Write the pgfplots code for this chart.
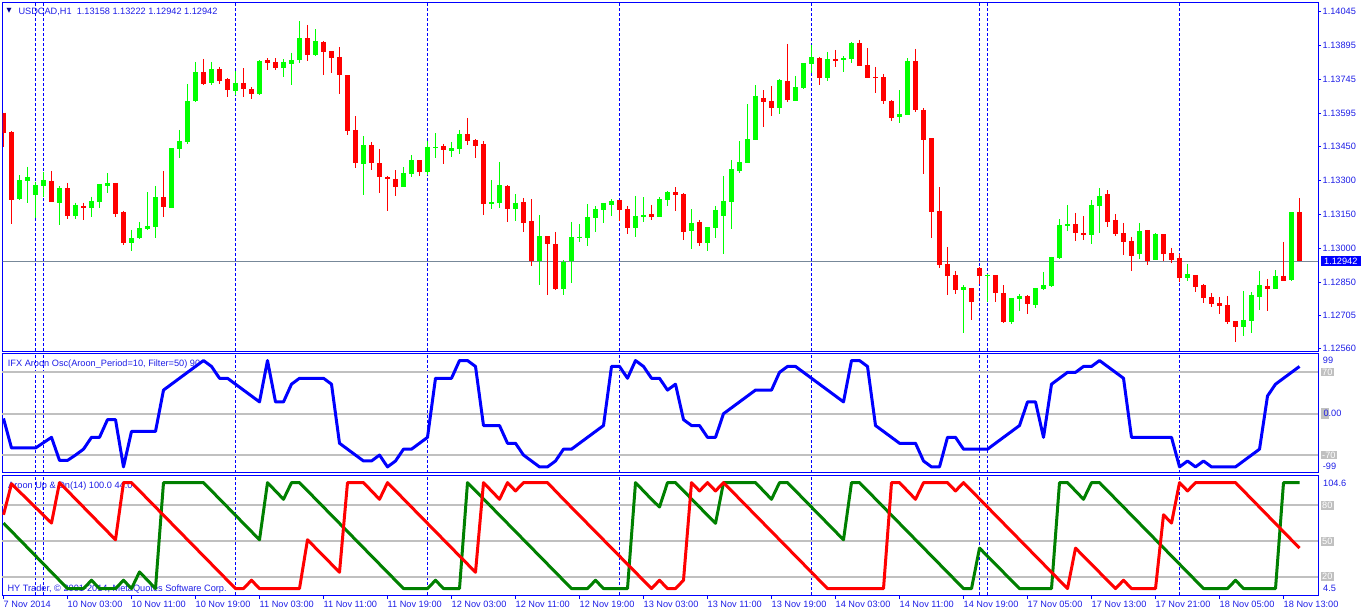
\documentclass[border=0pt]{standalone}
\usepackage{fontspec}
\setmainfont{Liberation Sans}
\newfontfamily\symfont{DejaVu Sans}
\usepackage{pgfplots}
\usepackage{pgfplotstable}
\pgfplotsset{compat=1.18}
\definecolor{mtblue}{RGB}{0,0,255}
\definecolor{mttext}{RGB}{30,30,230}
\definecolor{bullc}{RGB}{0,255,0}
\definecolor{bearc}{RGB}{255,0,0}
\definecolor{lvl}{RGB}{192,192,192}
\definecolor{pline}{RGB}{119,136,153}
\definecolor{upc}{RGB}{0,128,0}
\definecolor{tri}{RGB}{0,0,139}
\newcommand{\lf}{\fontsize{9.2}{10}\selectfont}

\pgfplotstableread{
i o h l c
2 1.13216 1.13323 1.13213 1.13301
3 1.13297 1.13360 1.13201 1.13314
4 1.13235 1.13294 1.13135 1.13279
5 1.13276 1.13336 1.13228 1.13301
7 1.13201 1.13275 1.13103 1.13267
9 1.13144 1.13201 1.13129 1.13191
11 1.13179 1.13228 1.13138 1.13209
12 1.13206 1.13284 1.13179 1.13284
13 1.13276 1.13332 1.13245 1.13288
16 1.13025 1.13081 1.12990 1.13045
17 1.13047 1.13116 1.13042 1.13090
18 1.13085 1.13248 1.13081 1.13098
19 1.13094 1.13275 1.13047 1.13226
21 1.13179 1.13442 1.13179 1.13442
22 1.13438 1.13522 1.13400 1.13473
23 1.13469 1.13725 1.13460 1.13650
24 1.13650 1.13822 1.13645 1.13777
26 1.13729 1.13822 1.13720 1.13791
29 1.13694 1.13782 1.13676 1.13729
32 1.13680 1.13830 1.13676 1.13826
35 1.13797 1.13835 1.13755 1.13822
36 1.13814 1.13863 1.13720 1.13830
37 1.13830 1.14002 1.13817 1.13927
39 1.13852 1.13967 1.13848 1.13914
45 1.13373 1.13495 1.13235 1.13456
50 1.13270 1.13359 1.13270 1.13332
51 1.13328 1.13411 1.13314 1.13389
53 1.13336 1.13473 1.13323 1.13447
54 1.13442 1.13508 1.13398 1.13447
56 1.13429 1.13469 1.13403 1.13442
57 1.13438 1.13522 1.13416 1.13504
61 1.13195 1.13301 1.13173 1.13204
62 1.13200 1.13381 1.13178 1.13279
64 1.13173 1.13239 1.13120 1.13200
67 1.12944 1.13147 1.12838 1.13054
70 1.12821 1.12948 1.12794 1.12940
71 1.12944 1.13116 1.12847 1.13050
72 1.13045 1.13107 1.13028 1.13051
73 1.13045 1.13195 1.13010 1.13138
74 1.13134 1.13187 1.13072 1.13173
75 1.13169 1.13200 1.13112 1.13200
76 1.13191 1.13217 1.13142 1.13209
79 1.13090 1.13231 1.13050 1.13142
80 1.13138 1.13226 1.13116 1.13147
82 1.13138 1.13226 1.13138 1.13217
83 1.13213 1.13253 1.13187 1.13248
86 1.13076 1.13173 1.12997 1.13112
88 1.13023 1.13094 1.12988 1.13094
89 1.13090 1.13187 1.13045 1.13169
90 1.13142 1.13319 1.12975 1.13209
91 1.13204 1.13389 1.13085 1.13350
92 1.13341 1.13473 1.13332 1.13381
93 1.13376 1.13636 1.13376 1.13482
94 1.13478 1.13720 1.13478 1.13672
97 1.13619 1.13747 1.13592 1.13742
99 1.13650 1.13760 1.13650 1.13711
100 1.13707 1.13817 1.13703 1.13817
101 1.13813 1.13897 1.13773 1.13844
103 1.13751 1.13866 1.13738 1.13835
105 1.13830 1.13848 1.13777 1.13839
106 1.13835 1.13910 1.13817 1.13905
112 1.13579 1.13698 1.13553 1.13592
113 1.13588 1.13839 1.13588 1.13826
120 1.12816 1.12838 1.12627 1.12829
123 1.12878 1.12887 1.12763 1.12882
126 1.12675 1.12781 1.12666 1.12781
127 1.12776 1.12799 1.12724 1.12790
129 1.12750 1.12825 1.12737 1.12825
130 1.12821 1.12896 1.12816 1.12838
131 1.12834 1.12962 1.12829 1.12962
132 1.12957 1.13129 1.12953 1.13103
133 1.13098 1.13191 1.13076 1.13107
136 1.13059 1.13213 1.13019 1.13191
137 1.13187 1.13266 1.13067 1.13231
142 1.12975 1.13112 1.12953 1.13076
144 1.12948 1.13067 1.12948 1.13063
148 1.12869 1.12931 1.12856 1.12887
155 1.12653 1.12812 1.12613 1.12684
156 1.12679 1.12807 1.12627 1.12794
157 1.12785 1.12900 1.12728 1.12838
159 1.12821 1.12904 1.12821 1.12878
161 1.12860 1.13160 1.12856 1.13160
}\bull

\pgfplotstableread{
i o h l c
0 1.13598 1.13598 1.13448 1.13510
1 1.13514 1.13517 1.13107 1.13213
6 1.13297 1.13341 1.13206 1.13206
8 1.13266 1.13288 1.13131 1.13144
10 1.13187 1.13201 1.13125 1.13178
14 1.13288 1.13288 1.13140 1.13153
15 1.13160 1.13165 1.13015 1.13023
20 1.13226 1.13341 1.13140 1.13184
25 1.13777 1.13835 1.13720 1.13725
27 1.13791 1.13800 1.13726 1.13738
28 1.13747 1.13751 1.13667 1.13698
30 1.13729 1.13795 1.13667 1.13701
31 1.13703 1.13711 1.13658 1.13680
33 1.13830 1.13839 1.13786 1.13817
34 1.13822 1.13839 1.13786 1.13797
38 1.13927 1.13985 1.13826 1.13852
40 1.13910 1.13914 1.13764 1.13867
41 1.13870 1.13870 1.13773 1.13841
42 1.13844 1.13888 1.13680 1.13764
43 1.13764 1.13764 1.13500 1.13519
44 1.13522 1.13583 1.13354 1.13376
46 1.13456 1.13469 1.13345 1.13376
47 1.13376 1.13438 1.13244 1.13316
48 1.13314 1.13319 1.13165 1.13307
49 1.13306 1.13345 1.13231 1.13270
52 1.13389 1.13389 1.13319 1.13336
55 1.13451 1.13460 1.13372 1.13433
58 1.13504 1.13575 1.13456 1.13473
59 1.13478 1.13482 1.13398 1.13451
60 1.13460 1.13473 1.13147 1.13195
63 1.13275 1.13279 1.13116 1.13173
65 1.13204 1.13222 1.13072 1.13112
66 1.13120 1.13217 1.12922 1.12944
68 1.13054 1.13054 1.12794 1.13019
69 1.13019 1.13072 1.12816 1.12821
77 1.13213 1.13213 1.13120 1.13169
78 1.13173 1.13187 1.13063 1.13090
81 1.13151 1.13191 1.13125 1.13138
84 1.13248 1.13270 1.13165 1.13235
85 1.13239 1.13244 1.13037 1.13072
87 1.13116 1.13125 1.13010 1.13023
95 1.13663 1.13698 1.13535 1.13645
96 1.13650 1.13716 1.13583 1.13619
98 1.13738 1.13901 1.13645 1.13654
102 1.13839 1.13844 1.13720 1.13751
104 1.13835 1.13875 1.13800 1.13826
107 1.13905 1.13919 1.13804 1.13804
108 1.13808 1.13883 1.13751 1.13751
109 1.13755 1.13800 1.13685 1.13751
110 1.13755 1.13769 1.13636 1.13650
111 1.13650 1.13654 1.13561 1.13575
114 1.13826 1.13879 1.13601 1.13610
115 1.13610 1.13619 1.13328 1.13478
116 1.13486 1.13486 1.13045 1.13160
117 1.13165 1.13270 1.12913 1.12926
118 1.12931 1.13006 1.12794 1.12878
119 1.12882 1.12900 1.12799 1.12816
121 1.12825 1.12825 1.12684 1.12763
122 1.12913 1.12918 1.12843 1.12878
124 1.12882 1.12882 1.12763 1.12803
125 1.12803 1.12838 1.12671 1.12675
128 1.12790 1.12794 1.12710 1.12754
134 1.13107 1.13156 1.13032 1.13067
135 1.13067 1.13142 1.13037 1.13059
138 1.13239 1.13257 1.13094 1.13116
139 1.13125 1.13151 1.13054 1.13063
140 1.13067 1.13112 1.12970 1.13028
141 1.13032 1.13050 1.12900 1.12966
143 1.13081 1.13081 1.12926 1.12944
145 1.13063 1.13063 1.12944 1.12975
146 1.12979 1.13001 1.12935 1.12948
147 1.12957 1.12975 1.12851 1.12869
149 1.12882 1.12882 1.12807 1.12829
150 1.12838 1.12843 1.12759 1.12781
151 1.12785 1.12803 1.12741 1.12754
152 1.12759 1.12785 1.12710 1.12746
153 1.12750 1.12790 1.12666 1.12675
154 1.12679 1.12679 1.12587 1.12653
158 1.12834 1.12865 1.12724 1.12821
160 1.12878 1.13028 1.12856 1.12856
162 1.13158 1.13222 1.12942 1.12942
}\bear

\pgfplotstableread{
i v
0 -8
1 -58
4 -58
6 -40
7 -79
8 -79
9 -70
10 -60
11 -40
12 -40
13 -10
14 -10
15 -90
16 -30
19 -30
20 40
21 50
22 60
23 70
24 80
25 90
26 80
27 60
28 60
29 50
30 40
31 30
32 20
33 90
34 20
35 20
36 50
37 60
40 60
41 50
42 -50
43 -60
44 -70
45 -80
46 -80
47 -70
48 -90
49 -80
50 -60
51 -60
52 -50
53 -40
54 60
56 60
57 90
58 90
59 80
60 -20
62 -20
63 -50
64 -50
65 -70
66 -80
67 -90
68 -90
69 -80
70 -60
71 -60
72 -50
73 -40
74 -30
75 -20
76 80
77 80
78 60
79 90
80 80
81 60
82 60
83 40
84 50
85 -10
86 -20
87 -20
88 -40
89 -40
90 0
91 10
92 20
93 30
94 40
96 40
97 70
98 80
99 80
100 70
101 60
102 50
103 40
104 30
105 20
106 90
107 90
108 80
109 -20
110 -30
111 -40
112 -50
114 -50
115 -80
116 -90
117 -90
118 -40
119 -40
120 -60
123 -60
124 -50
125 -40
126 -30
127 -20
128 20
129 20
130 -40
131 50
132 60
133 70
134 70
135 80
136 80
137 90
138 80
139 70
140 60
141 -40
146 -40
147 -90
148 -80
149 -90
150 -80
151 -90
154 -90
155 -80
156 -70
157 -60
158 30
159 50
160 60
161 70
162 80
}\osc

\pgfplotstableread{
i v
0 65
8 10
10 10
11 17
12 10
14 10
15 17
16 10
17 24
18 17
19 10
20 99
25 99
32 51
33 99
34 92
35 85
36 99
37 99
50 10
53 10
54 17
55 10
57 10
58 99
71 10
73 10
74 17
75 10
78 10
79 99
80 92
81 85
82 78.5
83 99
84 99
88 71.6
89 64.8
90 99
94 99
95 92
96 85
97 99
98 99
105 51
106 99
107 99
120 10
121 10
122 44
127 10
131 10
132 99
133 99
134 92
135 85
136 99
137 99
150 10
153 10
154 17
155 10
159 10
160 99
162 99
}\aup

\pgfplotstableread{
i v
0 72
1 98
6 65
7 99
14 51
15 99
16 99
29 10
30 10
31 17
32 10
37 10
38 51
42 23.7
43 99
45 99
46 92
47 85
48 99
59 23.7
60 99
61 92
62 85
63 99
64 92
65 99
68 99
69 92
70 85
81 10
82 17
83 10
84 10
85 17
86 99
87 92
88 99
89 92
90 99
103 10
110 10
111 99
112 99
113 92
114 85
115 99
118 99
119 92
120 99
133 10
134 44
139 10
140 17
141 10
144 10
145 72
146 65
147 99
148 92
149 99
154 99
162 44
}\adn

\begin{document}
\begin{tikzpicture}[x=1pt,y=1pt]
\path[use as bounding box] (0,0) rectangle (1362,-613);
\pgfplotsset{
 mtbase/.style={
  scale only axis, width=1315.5pt,
  xmin=-0.125, xmax=164.31,
  axis line style={mtblue, line width=1pt},
  xtick=\empty, ytick=\empty,
  clip mode=individual,
  extra x ticks={4,5,29,53,77,101,122,123,147},
  extra x tick labels={},
  extra x tick style={xmajorgrids=true, major grid style={draw=mtblue, line width=0.9pt, dash pattern=on 3pt off 2pt}, major tick length=0pt},
 },
}
% texts under the plots
\node[anchor=west, inner sep=0pt, text=tri, font=\symfont\fontsize{6.5}{7}\selectfont] at (6.5,-11) {▼};
\node[anchor=base west, inner sep=0pt, text=mttext, font=\lf] at (18.3,-14.2) {USDCAD,H1\ \ 1.13158 1.13222 1.12942 1.12942};
\node[anchor=base west, inner sep=0pt, text=mttext, font=\lf] at (7.7,-366) {IFX Aroon Osc(Aroon\_Period=10, Filter=50) 90};
\node[anchor=base west, inner sep=0pt, text=mttext, font=\lf] at (8,-488) {Aroon Up \& Dn(14) 100.0 44.0};
\node[anchor=base west, inner sep=0pt, text=mttext, font=\lf] at (7.3,-591) {HY Trader, © 2001-2014, MetaQuotes Software Corp.};

% main price panel
\begin{axis}[mtbase, at={(2.5pt,-351pt)}, anchor=south west, height=348.5pt,
  ymin=1.12547, ymax=1.14084,
  ytick={1.14045,1.13895,1.13745,1.13595,1.13450,1.13300,1.13150,1.13000,1.12850,1.12705,1.12560},
  yticklabels={1.14045,1.13895,1.13745,1.13595,1.13450,1.13300,1.13150,1.13000,1.12850,1.12705,1.12560},
  ytick pos=right, yticklabel pos=right, tick align=outside, major tick length=3pt,
  tick style={mtblue, line width=1pt},
  yticklabel style={text=mttext, anchor=west, inner sep=0pt, font=\lf, xshift=1.5pt},
]
\addplot[pline, line width=0.9pt] coordinates {(-1,1.12942) (170,1.12942)};
\addplot[draw=none, mark=none, error bars/.cd, y dir=minus, y explicit, error mark=none,
  error bar style={draw=bullc, line width=1pt}]
  table[x=i, y=h, y error minus expr=\thisrow{h}-\thisrow{l}] {\bull};
\addplot[draw=none, mark=none, error bars/.cd, y dir=minus, y explicit, error mark=none,
  error bar style={draw=bearc, line width=1pt}]
  table[x=i, y=h, y error minus expr=\thisrow{h}-\thisrow{l}] {\bear};
\addplot[draw=none, mark=none, error bars/.cd, y dir=minus, y explicit, error mark=none,
  error bar style={draw=bullc, line width=5pt, line cap=butt}]
  table[x=i, y=c, y error minus expr={max(\thisrow{c}-\thisrow{o},0.00003)}] {\bull};
\addplot[draw=none, mark=none, error bars/.cd, y dir=minus, y explicit, error mark=none,
  error bar style={draw=bearc, line width=5pt, line cap=butt}]
  table[x=i, y=o, y error minus expr={max(\thisrow{o}-\thisrow{c},0.00003)}] {\bear};
\coordinate (cp) at (axis cs:164.31,1.12942);
\end{axis}
\node[anchor=west, fill=mtblue, text=white, inner xsep=3.5pt, inner ysep=1.8pt, font=\lf] at ([xshift=2.5pt]cp) {1.12942};

% Aroon oscillator panel
\begin{axis}[mtbase, at={(2.5pt,-472.5pt)}, anchor=south west, height=119pt,
  ymin=-99.5, ymax=101.9,
  extra y ticks={70,0,-70}, extra y tick labels={},
  extra y tick style={ymajorgrids=true, major grid style={lvl, line width=2pt}, major tick length=0pt},
]
\addplot[mtblue, line width=3pt, line join=round] table[x=i, y=v] {\osc};
\end{axis}
\fill[lvl] (1320.5,-419) rectangle (1329,-408.4);
\node[anchor=west, inner sep=0pt, text=mttext, font=\lf] at (1322.7,-360.7) {99};
\node[anchor=west, fill=lvl, text=white, inner xsep=1.5pt, inner ysep=1pt, font=\lf] at (1320.5,-372) {70};
\node[anchor=west, inner sep=0pt, text=mttext, font=\lf] at (1323.3,-413.7) {0.00};
\node[anchor=west, fill=lvl, text=white, inner xsep=1.5pt, inner ysep=1pt, font=\lf] at (1320.5,-455) {-70};
\node[anchor=west, inner sep=0pt, text=mttext, font=\lf] at (1322.7,-466.7) {-99};

% Aroon up/down panel
\begin{axis}[mtbase, at={(2.5pt,-595pt)}, anchor=south west, height=120pt,
  ymin=4.6, ymax=105.4,
  extra y ticks={80,50,20}, extra y tick labels={},
  extra y tick style={ymajorgrids=true, major grid style={lvl, line width=2pt}, major tick length=0pt},
  xtick={0,8,...,160},
  xticklabels={7 Nov 2014, 10 Nov 03:00, 10 Nov 11:00, 10 Nov 19:00, 11 Nov 03:00, 11 Nov 11:00, 11 Nov 19:00, 12 Nov 03:00, 12 Nov 11:00, 12 Nov 19:00, 13 Nov 03:00, 13 Nov 11:00, 13 Nov 19:00, 14 Nov 03:00, 14 Nov 11:00, 14 Nov 19:00, 17 Nov 05:00, 17 Nov 13:00, 17 Nov 21:00, 18 Nov 05:00, 18 Nov 13:00},
  xtick pos=left, tick align=outside, major tick length=4pt,
  tick style={mtblue, line width=1pt},
  xticklabel style={text=mttext, anchor=north west, inner sep=0pt, font=\lf, yshift=-2pt},
]
\addplot[upc, line width=3pt, line join=round] table[x=i, y=v] {\aup};
\addplot[bearc, line width=3pt, line join=round] table[x=i, y=v] {\adn};
\end{axis}
\node[anchor=west, inner sep=0pt, text=mttext, font=\lf] at (1323,-483.3) {104.6};
\node[anchor=west, fill=lvl, text=white, inner xsep=1.5pt, inner ysep=1pt, font=\lf] at (1320.5,-505.3) {80};
\node[anchor=west, fill=lvl, text=white, inner xsep=1.5pt, inner ysep=1pt, font=\lf] at (1320.5,-541.3) {50};
\node[anchor=west, fill=lvl, text=white, inner xsep=1.5pt, inner ysep=1pt, font=\lf] at (1320.5,-576.3) {20};
\node[anchor=west, inner sep=0pt, text=mttext, font=\lf] at (1323,-588.3) {4.5};
\end{tikzpicture}
\end{document}
